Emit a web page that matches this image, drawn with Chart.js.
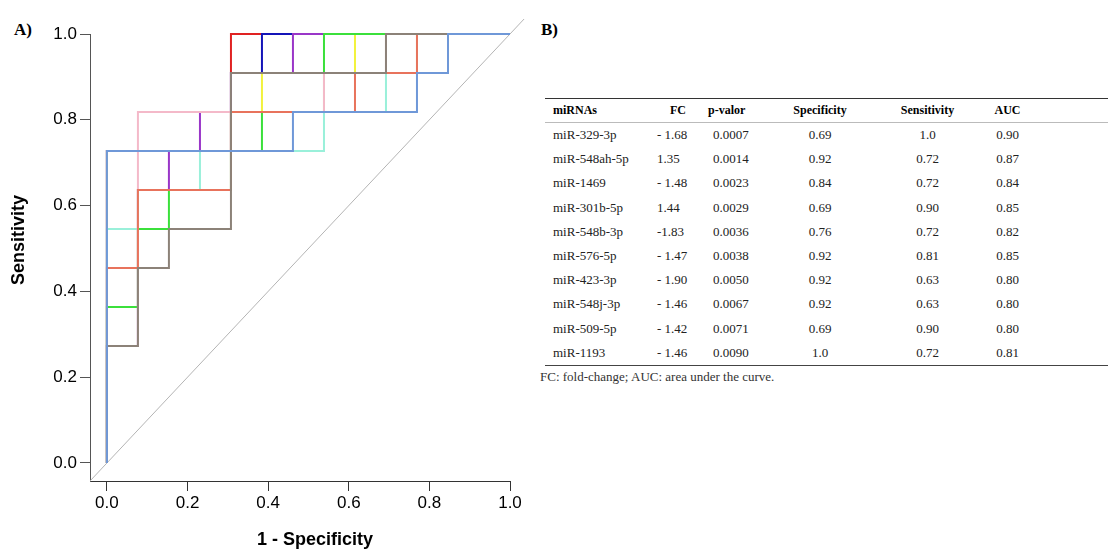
<!DOCTYPE html>
<html>
<head>
<meta charset="utf-8">
<script src="https://cdn.jsdelivr.net/npm/chart.js@4.4.1/dist/chart.umd.min.js"></script>
<style>
  body { margin: 0; width: 1108px; height: 549px; position: relative; background: #fff; overflow: hidden; }
  .panel { position: absolute; top: 20px; font: bold 17px "Liberation Serif", "Times New Roman", serif; line-height: 20px; }
  #roc { position: absolute; left: 0; top: 0; }
  #tbl { position: absolute; left: 545px; top: 98px; width: 563px; border-collapse: collapse; table-layout: fixed;
         font-family: "Liberation Serif", "Times New Roman", serif; font-size: 13px; color: #222; }
  #tbl th { height: 23px; padding: 0; font-size: 12px; font-weight: bold; color: #000;
            border-top: 1.5px solid #333; border-bottom: 1px solid #bbb; }
  #tbl td { height: 24.2px; padding: 0; }
  #tbl tbody tr:last-child td { border-bottom: 1.5px solid #444; }
  .c1 { text-align: left; padding-left: 8px !important; }
  .c2 { text-align: left; padding-left: 7px !important; }
  th.c2 { padding-left: 20px !important; }
  .c3 { text-align: left; padding-left: 13px !important; }
  th.c3 { padding-left: 8px !important; }
  .cc { text-align: center; }
  #note { position: absolute; left: 540px; top: 370px; font: 13px/14px "Liberation Serif", "Times New Roman", serif; color: #333; }
</style>
</head>
<body>
<div class="panel" style="left:14px">A)</div>
<canvas id="roc" width="535" height="549"></canvas>
<div class="panel" style="left:541px">B)</div>
<table id="tbl">
  <colgroup>
    <col style="width:105px"><col style="width:50px"><col style="width:70px"><col style="width:100px">
    <col style="width:115px"><col style="width:45px"><col style="width:78px">
  </colgroup>
  <thead><tr>
    <th class="c1">miRNAs</th><th class="c2">FC</th><th class="c3">p-valor</th>
    <th class="cc">Specificity</th><th class="cc">Sensitivity</th><th class="cc">AUC</th><th></th>
  </tr></thead>
  <tbody id="rows"></tbody>
</table>
<div id="note">FC: fold-change; AUC: area under the curve.</div>

<script>
// panel B table
var mirnas = ["miR-329-3p", "miR-548ah-5p", "miR-1469", "miR-301b-5p", "miR-548b-3p",
              "miR-576-5p", "miR-423-3p", "miR-548j-3p", "miR-509-5p", "miR-1193"];
var foldChange = ["- 1.68", "1.35", "- 1.48", "1.44", "-1.83", "- 1.47", "- 1.90", "- 1.46", "- 1.42", "- 1.46"];
var pValor = ["0.0007", "0.0014", "0.0023", "0.0029", "0.0036", "0.0038", "0.0050", "0.0067", "0.0071", "0.0090"];
var specificity = ["0.69", "0.92", "0.84", "0.69", "0.76", "0.92", "0.92", "0.92", "0.69", "1.0"];
var sensitivity = ["1.0", "0.72", "0.72", "0.90", "0.72", "0.81", "0.63", "0.63", "0.90", "0.72"];
var auc = ["0.90", "0.87", "0.84", "0.85", "0.82", "0.85", "0.80", "0.80", "0.80", "0.81"];

// panel A: ROC curves (x = 1 - specificity, y = sensitivity), first one is drawn on top
var fprLightBlue = [0, 0, 0.4615, 0.4615, 0.7692, 0.7692, 0.8462, 0.8462, 1];
var tprLightBlue = [0, 0.7273, 0.7273, 0.8182, 0.8182, 0.9091, 0.9091, 1, 1];
var fprGray = [0, 0, 0.0769, 0.0769, 0.1538, 0.1538, 0.3077, 0.3077, 0.6923, 0.6923, 1];
var tprGray = [0, 0.2727, 0.2727, 0.4545, 0.4545, 0.5455, 0.5455, 0.9091, 0.9091, 1, 1];
var fprTomato = [0, 0, 0.0769, 0.0769, 0.3077, 0.3077, 0.6154, 0.6154, 0.7692, 0.7692, 1];
var tprTomato = [0, 0.4545, 0.4545, 0.6364, 0.6364, 0.8182, 0.8182, 0.9091, 0.9091, 1, 1];
var fprAqua = [0, 0, 0.0769, 0.0769, 0.2308, 0.2308, 0.5385, 0.5385, 0.6923, 0.6923, 0.7692, 0.7692, 1];
var tprAqua = [0, 0.5455, 0.5455, 0.6364, 0.6364, 0.7273, 0.7273, 0.8182, 0.8182, 0.9091, 0.9091, 1, 1];
var fprPink = [0, 0, 0.0769, 0.0769, 0.5385, 0.5385, 0.6923, 0.6923, 1];
var tprPink = [0, 0.2727, 0.2727, 0.8182, 0.8182, 0.9091, 0.9091, 1, 1];
var fprGreen = [0, 0, 0.0769, 0.0769, 0.1538, 0.1538, 0.3077, 0.3077, 0.3846, 0.3846, 0.5385, 0.5385, 1];
var tprGreen = [0, 0.3636, 0.3636, 0.5455, 0.5455, 0.6364, 0.6364, 0.7273, 0.7273, 0.8182, 0.8182, 1, 1];
var fprYellow = [0, 0, 0.3077, 0.3077, 0.3846, 0.3846, 0.6154, 0.6154, 1];
var tprYellow = [0, 0.7273, 0.7273, 0.8182, 0.8182, 0.9091, 0.9091, 1, 1];
var fprPurple = [0, 0, 0.0769, 0.0769, 0.1538, 0.1538, 0.2308, 0.2308, 0.3077, 0.3077, 0.4615, 0.4615, 1];
var tprPurple = [0, 0.2727, 0.2727, 0.6364, 0.6364, 0.7273, 0.7273, 0.8182, 0.8182, 0.9091, 0.9091, 1, 1];
var fprBlue = [0, 0, 0.3077, 0.3077, 0.3846, 0.3846, 1];
var tprBlue = [0, 0.7273, 0.7273, 0.9091, 0.9091, 1, 1];
var fprRed = [0, 0, 0.3077, 0.3077, 1];
var tprRed = [0, 0.7273, 0.7273, 1, 1];

var curveFpr = [fprLightBlue, fprGray, fprTomato, fprAqua, fprPink, fprGreen, fprYellow, fprPurple, fprBlue, fprRed];
var curveTpr = [tprLightBlue, tprGray, tprTomato, tprAqua, tprPink, tprGreen, tprYellow, tprPurple, tprBlue, tprRed];
var curveColors = ["#6f98d8", "#8c8278", "#e8735c", "#9af0da", "#f4b9c9",
                   "#3be03b", "#f2f23c", "#9a36c8", "#1414b8", "#e02222"];

// reference line
var diagX = [-0.042, 1.035];
var diagY = [-0.042, 1.035];

var axisTicks = [0, 0.2, 0.4, 0.6, 0.8, 1.0];

// fill the table
var body = document.getElementById("rows");
mirnas.forEach(function (m, i) {
  var tr = document.createElement("tr");
  tr.innerHTML = '<td class="c1">' + m + '</td><td class="c2">' + foldChange[i] +
    '</td><td class="c3">' + pValor[i] + '</td><td class="cc">' + specificity[i] +
    '</td><td class="cc">' + sensitivity[i] + '</td><td class="cc">' + auc[i] + '</td><td></td>';
  body.appendChild(tr);
});

Chart.defaults.font.family = '"Liberation Sans", Arial, sans-serif';

var datasets = curveFpr.map(function (fpr, i) {
  return {
    data: fpr.map(function (x, j) { return { x: x, y: curveTpr[i][j] }; }),
    showLine: true,
    borderColor: curveColors[i],
    borderWidth: 2,
    pointRadius: 0,
    fill: false,
    clip: false
  };
});
datasets.push({
  data: diagX.map(function (x, j) { return { x: x, y: diagY[j] }; }),
  showLine: true,
  borderColor: "#b4b4b4",
  borderWidth: 1,
  pointRadius: 0,
  clip: false
});

// axis titles are placed a little off-centre in the original
var axisTitles = {
  id: "axisTitles",
  afterDraw: function (chart) {
    var ctx = chart.ctx;
    ctx.save();
    ctx.font = 'bold 18px "Liberation Sans", Arial, sans-serif';
    ctx.fillStyle = "#000";
    ctx.textAlign = "center";
    ctx.textBaseline = "middle";
    ctx.fillText("1 - Specificity", 315, 540);
    ctx.translate(19, 240);
    ctx.rotate(-Math.PI / 2);
    ctx.fillText("Sensitivity", 0, 0);
    ctx.restore();
  }
};

function setTicks(scale) {
  scale.ticks = axisTicks.map(function (v) { return { value: v }; });
}

// plot box sized so the 1/13 and 1/11 steps land on whole pixels
new Chart(document.getElementById("roc"), {
  type: "scatter",
  data: { datasets: datasets },
  options: {
    responsive: false,
    animation: false,
    events: [],
    layout: { padding: { top: 34, right: 25, left: 0, bottom: 0 } },
    plugins: { legend: { display: false }, tooltip: { enabled: false } },
    scales: {
      x: {
        type: "linear",
        min: -0.042,
        max: 1,
        afterBuildTicks: setTicks,
        afterFit: function (s) { s.height = 68; },
        ticks: { callback: function (v) { return v.toFixed(1); }, color: "#000", font: { size: 17 }, padding: 2, maxRotation: 0, autoSkip: false },
        grid: { drawOnChartArea: false, tickLength: 10, color: "#333" },
        border: { color: "#333", width: 1 }
      },
      y: {
        type: "linear",
        min: -0.042,
        max: 1,
        afterBuildTicks: setTicks,
        afterFit: function (s) { s.width = 90; },
        ticks: { callback: function (v) { return v.toFixed(1); }, color: "#000", font: { size: 17 }, padding: 3, autoSkip: false },
        grid: { drawOnChartArea: false, tickLength: 10, color: "#555" },
        border: { color: "#555", width: 1 }
      }
    }
  },
  plugins: [axisTitles]
});
</script>
</body>
</html>
